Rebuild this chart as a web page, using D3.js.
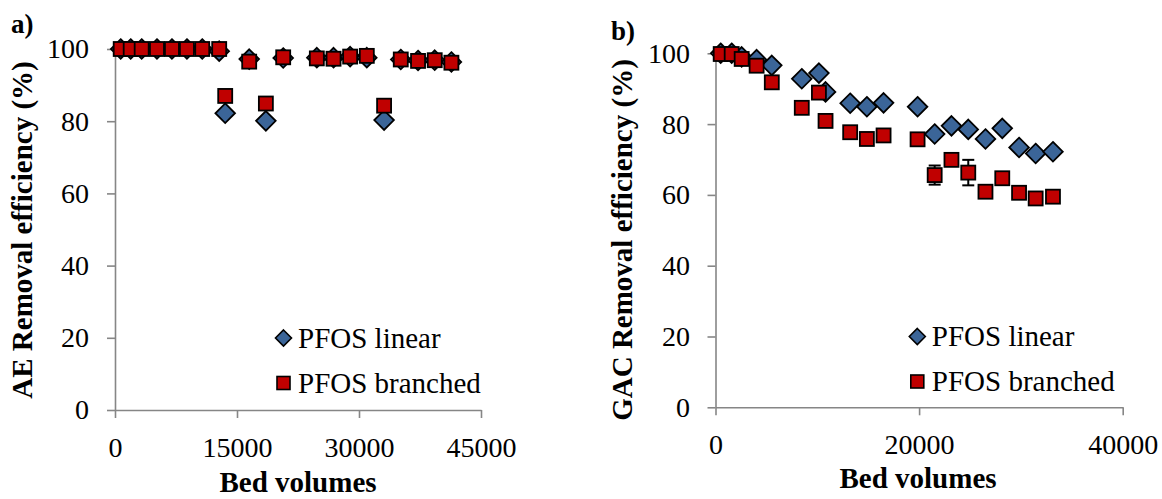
<!DOCTYPE html>
<html>
<head>
<meta charset="utf-8">
<script src="https://cdn.jsdelivr.net/npm/d3@7"></script>
<style>
  html, body { margin: 0; padding: 0; background: #fff; }
  svg { display: block; }
  svg text { font-family: 'Liberation Serif', 'Times New Roman', Tinos, 'DejaVu Serif', serif !important; fill: #000; }
</style>
</head>
<body>
<svg id="chart" width="1162" height="499"></svg>
<script>
// ---- Panel a) anion exchange (AE) ----
const aeBedVolumes     = [700, 1930, 3280, 5160, 7000, 8845, 10725, 12813, 13550, 16500, 18550, 20680, 24815, 26870, 28910, 30960, 33085, 35135, 37260, 39310, 41360];
const aeLinear         = [100, 100, 100, 100, 100, 100, 100, 99.4, 82.2, 97.2, 80.1, 97.5, 97.6, 97.6, 97.9, 97.6, 80.3, 97.1, 96.8, 96.9, 96.4];
const aeBranched       = [100, 100, 100, 100, 100, 100, 100, 100, 87.0, 96.5, 84.9, 97.7, 97.4, 97.3, 97.9, 98.1, 84.3, 97.1, 96.7, 96.9, 96.2];

// ---- Panel b) granular activated carbon (GAC) ----
const gacBedVolumes    = [510, 1590, 2570, 4040, 5530, 8475, 10160, 10810, 13230, 14870, 16510, 19850, 21530, 23180, 24830, 26520, 28170, 29820, 31450, 33150];
const gacLinear        = [100, 100, 99.0, 98.2, 96.6, 92.8, 94.4, 89.1, 85.9, 84.9, 86.0, 84.9, 77.2, 79.5, 78.5, 75.8, 78.8, 73.4, 71.7, 72.2];
const gacBranched      = [99.8, 99.8, 98.4, 96.5, 91.8, 84.6, 88.9, 80.9, 77.7, 75.8, 76.8, 75.7, 65.6, 69.9, 66.3, 60.9, 64.7, 60.6, 59.0, 59.5];
const gacBranchedError = [0, 0, 0, 0, 0, 0, 0, 0, 0, 0, 0, 0, 2.7, 0, 3.6, 0, 0, 0, 0, 0];

// ---- Axis ticks and labels ----
const yTicks     = [0, 20, 40, 60, 80, 100];
const aeXTicks   = [0, 15000, 30000, 45000];
const gacXTicks  = [0, 20000, 40000];
const seriesNames = ["PFOS linear", "PFOS branched"];

const BLUE = "#3b6598";
const RED = "#c00000";
const AXIS = "#868686";
const TICK_FONT = 28;
const FONT = 29;
const SERIF = "'Liberation Serif', 'Times New Roman', Tinos, 'DejaVu Serif', serif";

const svg = d3.select("#chart");

function diamondPath(r) {
  return `M0,${-r}L${r},0L0,${r}L${-r},0Z`;
}

function drawPanel(cfg) {
  const x = d3.scaleLinear().domain(cfg.xDomain).range(cfg.xRange);
  const y = d3.scaleLinear().domain([0, 100]).range(cfg.yRange);
  const g = svg.append("g");

  // y axis
  const ya = g.append("g")
    .attr("transform", `translate(${cfg.xRange[0]},0)`)
    .call(d3.axisLeft(y).tickValues(yTicks).tickSize(8).tickSizeOuter(0).tickPadding(cfg.yPad));
  // x axis
  const xa = g.append("g")
    .attr("transform", `translate(0,${cfg.yRange[0]})`)
    .call(d3.axisBottom(x).tickValues(cfg.xTicks).tickFormat(d3.format("d")).tickSize(8).tickSizeOuter(0).tickPadding(cfg.xPad));
  [ya, xa].forEach(a => {
    a.attr("font-family", null).attr("font-size", null);
    a.select(".domain").attr("stroke", AXIS).attr("stroke-width", 1.6);
    a.selectAll(".tick line").attr("stroke", AXIS).attr("stroke-width", 1.6);
    a.selectAll(".tick text")
      .style("font-family", SERIF)
      .style("font-size", TICK_FONT + "px").attr("fill", "#000");
  });

  // axis titles
  g.append("text")
    .attr("x", cfg.xTitle[0]).attr("y", cfg.xTitle[1])
    .attr("text-anchor", "middle").style("font-size", FONT + "px").style("font-weight", "bold")
    .style("font-family", SERIF)
    .text("Bed volumes");
  g.append("text")
    .attr("transform", `translate(${cfg.yTitle[0]},${cfg.yTitle[1]}) rotate(-90)`)
    .attr("text-anchor", "middle").style("font-size", FONT + "px").style("font-weight", "bold")
    .style("font-family", SERIF)
    .text(cfg.yLabel);
  g.append("text")
    .attr("x", cfg.tag[0]).attr("y", cfg.tag[1])
    .style("font-size", "27px").style("font-weight", "bold")
    .style("font-family", SERIF)
    .text(cfg.tagText);

  // linear series: diamonds
  g.append("g").selectAll("path")
    .data(cfg.bv.map((b, i) => ({ b, v: cfg.linear[i] })))
    .join("path")
    .attr("d", diamondPath(9.8))
    .attr("transform", d => `translate(${x(d.b)},${y(d.v)})`)
    .attr("fill", BLUE).attr("stroke", "#000").attr("stroke-width", 1.8)
    .attr("stroke-linejoin", "miter");

  // error bars for branched series
  const errs = cfg.bv.map((b, i) => ({ b, v: cfg.branched[i], e: cfg.err ? cfg.err[i] : 0 })).filter(d => d.e > 0);
  const eg = g.append("g").attr("stroke", "#000").attr("stroke-width", 2);
  errs.forEach(d => {
    const cx = x(d.b), y1 = y(d.v + d.e), y2 = y(d.v - d.e);
    eg.append("line").attr("x1", cx).attr("x2", cx).attr("y1", y1).attr("y2", y2);
    eg.append("line").attr("x1", cx - 6).attr("x2", cx + 6).attr("y1", y1).attr("y2", y1);
    eg.append("line").attr("x1", cx - 6).attr("x2", cx + 6).attr("y1", y2).attr("y2", y2);
  });

  // branched series: squares
  const s = 14;
  g.append("g").selectAll("rect")
    .data(cfg.bv.map((b, i) => ({ b, v: cfg.branched[i] })))
    .join("rect")
    .attr("x", d => x(d.b) - s / 2).attr("y", d => y(d.v) - s / 2)
    .attr("width", s).attr("height", s)
    .attr("fill", RED).attr("stroke", "#000").attr("stroke-width", 1.8);

  // legend
  const lg = g.append("g");
  const [lx, ly] = cfg.legend;
  lg.append("path").attr("d", diamondPath(8))
    .attr("transform", `translate(${lx},${ly})`)
    .attr("fill", BLUE).attr("stroke", "#000").attr("stroke-width", 1.6);
  lg.append("rect").attr("x", lx - 6.5).attr("y", ly + 45 - 6.5).attr("width", 13).attr("height", 13)
    .attr("fill", RED).attr("stroke", "#000").attr("stroke-width", 1.6);
  seriesNames.forEach((n, i) => {
    lg.append("text").attr("x", lx + 14.5).attr("y", ly + 9.5 + i * 45)
      .style("font-size", FONT + "px").style("font-family", SERIF).text(n);
  });
}

drawPanel({
  xDomain: [0, 45000], xRange: [115, 481], yRange: [410, 49],
  xTicks: aeXTicks, yPad: 18, xPad: 19,
  bv: aeBedVolumes, linear: aeLinear, branched: aeBranched,
  xTitle: [298, 492], yTitle: [32, 230], yLabel: "AE Removal efficiency (%)",
  tag: [11, 33], tagText: "a)",
  legend: [283.5, 338]
});

drawPanel({
  xDomain: [0, 40000], xRange: [715.5, 1122.7], yRange: [407.3, 53.3],
  xTicks: gacXTicks, yPad: 17.5, xPad: 19,
  bv: gacBedVolumes, linear: gacLinear, branched: gacBranched, err: gacBranchedError,
  xTitle: [918, 488], yTitle: [632, 240], yLabel: "GAC Removal efficiency (%)",
  tag: [611, 40], tagText: "b)",
  legend: [917.3, 336.5]
});
</script>
</body>
</html>
